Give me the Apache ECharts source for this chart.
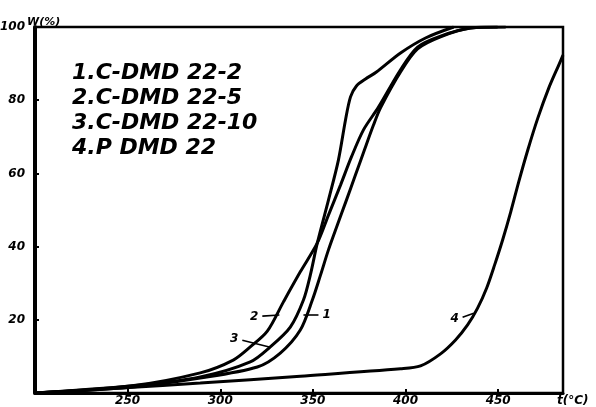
<!DOCTYPE html>
<html>
<head>
<meta charset="utf-8">
<script src="https://cdn.jsdelivr.net/npm/echarts@6/dist/echarts.min.js"></script>
<style>
  html, body { margin: 0; padding: 0; background: #fff; }
  #chart { width: 596px; height: 407px; }
</style>
</head>
<body>
<div id="chart"></div>
<script>
// Mass-loss curves W(%) against temperature t(°C)
const seriesNames = ['1.C-DMD 22-2', '2.C-DMD 22-5', '3.C-DMD 22-10', '4.P DMD 22'];
const curveTags = ['1', '2', '3', '4'];

const temp1 = [200, 251.4, 289.2, 320.0, 332.4, 343.2, 349.7, 354.1, 358.4, 363.2, 368.1, 373.0, 377.8, 382.7, 386.5, 397.3, 406.5, 418.9, 435.1, 454.1];
const mass1 = [0, 1.6, 4.1, 7.1, 10.9, 17.2, 25.4, 32.2, 39.1, 45.9, 52.7, 59.6, 66.4, 73.2, 77.9, 87.7, 94.0, 97.3, 99.7, 100];

const temp2 = [200, 251.4, 289.2, 307.0, 316.2, 325.4, 334.1, 343.2, 352.4, 358.4, 364.9, 370.8, 377.3, 385.4, 397.3, 406.5, 418.9, 435.1, 449.7];
const mass2 = [0, 1.9, 5.5, 9.0, 12.6, 16.9, 24.9, 33.1, 41.0, 48.6, 56.8, 64.5, 71.9, 78.1, 88.3, 94.5, 97.5, 99.7, 100];

const temp3 = [200, 251.4, 289.2, 316.2, 327.0, 337.8, 344.9, 348.6, 352.4, 358.4, 363.8, 367.6, 370.3, 373.5, 378.4, 384.3, 397.3, 410.8, 426.0];
const mass3 = [0, 1.9, 4.4, 8.5, 12.6, 18.0, 25.4, 32.2, 41.0, 52.7, 63.7, 74.6, 80.9, 83.9, 85.8, 87.7, 92.9, 97.0, 100];

const temp4 = [200, 248.6, 289.2, 343.2, 397.3, 408.1, 418.9, 427.0, 433.5, 438.9, 443.8, 448.1, 452.4, 456.8, 461.1, 466.0, 471.4, 477.3, 482.7, 485];
const mass4 = [0, 1.4, 2.7, 4.6, 6.6, 7.4, 10.7, 14.5, 18.6, 23.2, 28.7, 35.0, 41.8, 49.5, 57.7, 66.4, 75.1, 83.3, 89.6, 92.3];

// Short leader strokes that tie each curve number to its curve: [t0, w0, t1, w1]
const leaders = [
  [353.0, 21.3, 344.9, 21.3],
  [322.7, 21.0, 331.9, 21.3],
  [311.9, 14.4, 327.0, 12.5],
  [430.8, 20.7, 436.8, 21.8]
];

const temps = [temp1, temp2, temp3, temp4];
const masses = [mass1, mass2, mass3, mass4];

const hand = { fontStyle: 'italic', fontWeight: 'bold', fontFamily: 'DejaVu Sans', color: '#000' };

const chart = echarts.init(document.getElementById('chart'), null, { renderer: 'canvas' });

const series = seriesNames.map((name, i) => ({
  name: name,
  type: 'line',
  data: temps[i].map((t, k) => [t, masses[i][k]]),
  showSymbol: false,
  smooth: 0.3,
  lineStyle: { color: '#000', width: 3 },
  itemStyle: { color: '#000' },
  z: 3,
  markLine: {
    silent: true,
    symbol: 'none',
    lineStyle: { color: '#000', width: 1.6, type: 'solid' },
    label: Object.assign({ show: true, position: 'start', formatter: curveTags[i], fontSize: 12, distance: 4 }, hand),
    data: [[
      { coord: [leaders[i][0], leaders[i][1]] },
      { coord: [leaders[i][2], leaders[i][3]] }
    ]]
  }
}));

chart.setOption({
  backgroundColor: '#fff',
  animation: false,
  grid: {
    left: 35, right: 33, top: 27, bottom: 14,
    containLabel: false,
    outerBoundsMode: 'none',
    show: true, borderColor: '#000', borderWidth: 2.5, backgroundColor: 'transparent'
  },
  legend: {
    data: seriesNames,
    orient: 'vertical',
    left: 62,
    top: 57,
    icon: 'none',
    itemWidth: 0,
    itemHeight: 10,
    itemGap: 3,
    selectedMode: false,
    textStyle: Object.assign({ fontSize: 22 }, hand)
  },
  xAxis: {
    type: 'value',
    min: 200,
    max: 485,
    interval: 50,
    name: 't(°C)',
    nameLocation: 'end',
    nameGap: -6,
    nameMoveOverlap: false,
    nameTextStyle: Object.assign({ fontSize: 12, align: 'left', verticalAlign: 'top', padding: [2, 0, 0, 0] }, hand),
    axisLine: { lineStyle: { color: '#000', width: 3 } },
    axisTick: { inside: true, length: 4, lineStyle: { color: '#000', width: 2 } },
    axisLabel: Object.assign({
      fontSize: 12, margin: 2,
      showMinLabel: false, showMaxLabel: false,
      formatter: v => (v === 200 || v === 485 ? '' : String(v))
    }, hand),
    splitLine: { show: false }
  },
  yAxis: {
    type: 'value',
    min: 0,
    max: 100,
    interval: 20,
    name: 'W(%)',
    nameLocation: 'end',
    nameGap: 10,
    nameMoveOverlap: false,
    nameTextStyle: Object.assign({ fontSize: 11, align: 'left', verticalAlign: 'top', padding: [0, 0, 0, -8] }, hand),
    axisLine: { lineStyle: { color: '#000', width: 4 } },
    axisTick: { inside: true, length: 4, lineStyle: { color: '#000', width: 2 } },
    axisLabel: Object.assign({
      fontSize: 12, margin: 10,
      formatter: v => (v === 0 ? '' : String(v))
    }, hand),
    splitLine: { show: false }
  },
  series: series
});
</script>
</body>
</html>
